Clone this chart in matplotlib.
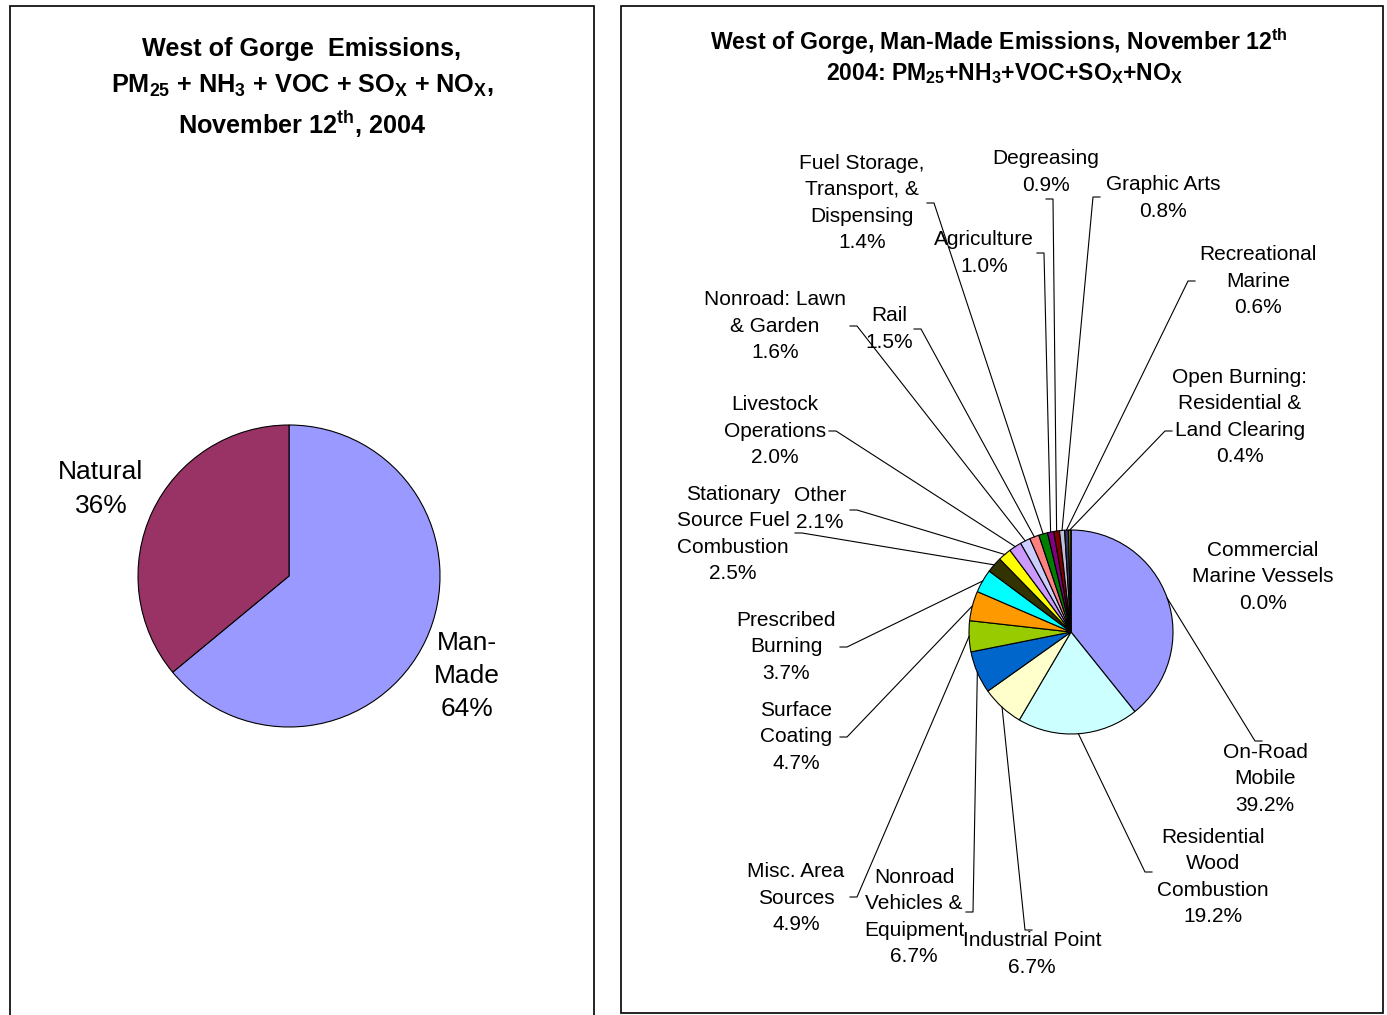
import numpy as np
import matplotlib
matplotlib.use("Agg")
import matplotlib.pyplot as plt
from matplotlib.patches import Rectangle

# Données - graphique de gauche
left_labels = ["Man-\nMade\n64%", "Natural\n36%"]
left_values = [64, 36]
left_colors = ["#9999FF", "#993366"]

# Données - graphique de droite (ordre horaire depuis midi)
right_labels = [
    "On-Road\nMobile\n39.2%",
    "Residential\nWood\nCombustion\n19.2%",
    "Industrial Point\n6.7%",
    "Nonroad\nVehicles &\nEquipment\n6.7%",
    "Misc. Area\nSources\n4.9%",
    "Surface\nCoating\n4.7%",
    "Prescribed\nBurning\n3.7%",
    "Stationary\nSource Fuel\nCombustion\n2.5%",
    "Other\n2.1%",
    "Livestock\nOperations\n2.0%",
    "Nonroad: Lawn\n& Garden\n1.6%",
    "Rail\n1.5%",
    "Fuel Storage,\nTransport, &\nDispensing\n1.4%",
    "Agriculture\n1.0%",
    "Degreasing\n0.9%",
    "Graphic Arts\n0.8%",
    "Recreational\nMarine\n0.6%",
    "Open Burning:\nResidential &\nLand Clearing\n0.4%",
    "Commercial\nMarine Vessels\n0.0%",
]
right_values = [39.2, 19.2, 6.7, 6.7, 4.9, 4.7, 3.7, 2.5, 2.1, 2.0,
                1.6, 1.5, 1.4, 1.0, 0.9, 0.8, 0.6, 0.4, 0.0]
right_colors = ["#9999FF", "#CCFFFF", "#FFFFCC", "#0066CC", "#99CC00",
                "#FF9900", "#00FFFF", "#333300", "#FFFF00", "#CC99FF",
                "#CCCCFF", "#FF8080", "#008000", "#800080", "#800000",
                "#C0C0D8", "#333366", "#808000", "#9999FF"]

left_title = ["West of Gorge  Emissions,",
              "PM$_{25}$ + NH$_3$ + VOC + SO$_X$ + NO$_X$,",
              "November 12$^{th}$, 2004"]
right_title = ["West of Gorge, Man-Made Emissions, November 12$^{th}$",
               "2004: PM$_{25}$+NH$_3$+VOC+SO$_X$+NO$_X$"]

# Positions des étiquettes (pixels) et points d'attache des lignes
right_text_pos = [(1265, 779), (1213, 877), (1032, 954), (914, 917), (796, 898),
                  (796, 737), (786, 647), (733, 534), (820, 509), (775, 431),
                  (775, 326), (889, 329), (862, 203), (984, 253), (1046, 172),
                  (1163, 198), (1258, 281), (1240, 417), (1263, 577)]
right_attach = [(1262, 741), (1152, 872), (1032, 930), (966, 912), (850, 897),
                (840, 737), (840, 647), (795, 533), (850, 510), (829, 431),
                (850, 326), (914, 329), (927, 203), (1037, 253), (1046, 199),
                (1100, 197), (1195, 281), (1172, 431), None]

W, H = 1387, 1015

plt.rcParams["font.family"] = ["Liberation Sans", "DejaVu Sans"]
plt.rcParams["mathtext.fontset"] = "custom"
plt.rcParams["mathtext.rm"] = "Liberation Sans"
plt.rcParams["mathtext.it"] = "Liberation Sans:italic"
plt.rcParams["mathtext.bf"] = "Liberation Sans:bold"
plt.rcParams["mathtext.default"] = "bf"


def Y(py):
    return H - py


fig = plt.figure(figsize=(W / 100, H / 100), dpi=100)
ax = fig.add_axes([0, 0, 1, 1])

# Cadres
ax.add_patch(Rectangle((10, Y(1030)), 584, 1024, fill=False, lw=1.2, ec="black"))
ax.add_patch(Rectangle((621, Y(1013)), 762, 1007, fill=False, lw=1.2, ec="black"))

# Camembert de gauche
ax.pie(left_values, colors=left_colors, startangle=90, counterclock=False,
       center=(289, Y(576)), radius=151, frame=True,
       wedgeprops=dict(edgecolor="black", linewidth=0.8))
ax.text(467, Y(676), left_labels[0], ha="center", va="center", fontsize=19,
        linespacing=1.5)
ax.text(101, Y(489), left_labels[1], ha="center", va="center", fontsize=19,
        linespacing=1.5)

for line, py in zip(left_title, [49, 86, 124]):
    ax.text(302, Y(py), line, ha="center", va="center", fontsize=18.2,
            fontweight="bold")

# Camembert de droite
wedges, _ = ax.pie(right_values, colors=right_colors, startangle=90,
                   counterclock=False, center=(1071, Y(632)), radius=102,
                   frame=True, wedgeprops=dict(edgecolor="black", linewidth=0.8))

for w, lab, tp, at in zip(wedges, right_labels, right_text_pos, right_attach):
    ax.text(tp[0], Y(tp[1]), lab, ha="center", va="center", fontsize=15,
            linespacing=1.47)
    if at is None:
        continue
    mid = np.deg2rad((w.theta1 + w.theta2) / 2)
    cx, cy = w.center
    axx = cx + w.r * np.cos(mid)
    axy = cy + w.r * np.sin(mid)
    stub = 7 if axx > at[0] else -7
    ax.plot([at[0], at[0] + stub, axx], [Y(at[1]), Y(at[1]), axy],
            color="black", lw=0.8)

ax.text(999, Y(42), right_title[0], ha="center", va="center", fontsize=16.6,
        fontweight="bold")
ax.text(1005, Y(74), right_title[1], ha="center", va="center", fontsize=16.6,
        fontweight="bold")

ax.set_xlim(0, W)
ax.set_ylim(0, H)
ax.set_aspect("auto")
ax.axis("off")

fig.savefig("out.png", dpi=100)
